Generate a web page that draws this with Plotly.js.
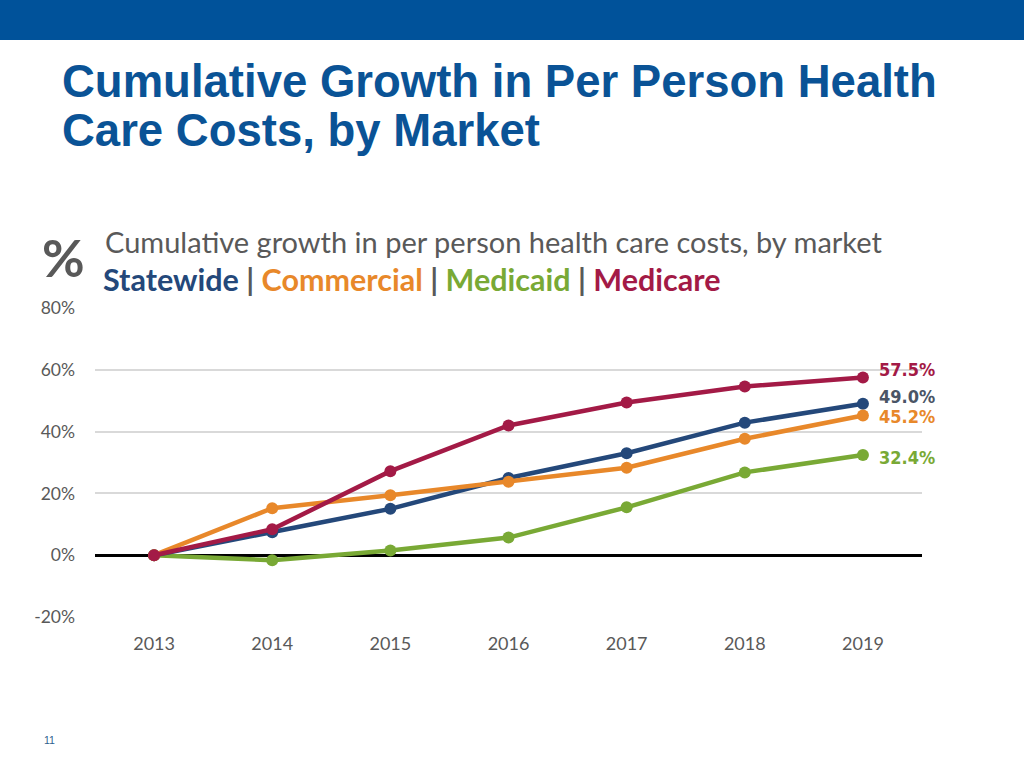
<!DOCTYPE html>
<html>
<head>
<meta charset="utf-8">
<script src="https://cdn.plot.ly/plotly-3.0.1.min.js"></script>
<style>
html,body{margin:0;padding:0;background:#fff;}
#chart{width:1024px;height:768px;}
</style>
</head>
<body>
<div id="chart"></div>
<script>
// ---- data ----
const years = [2013, 2014, 2015, 2016, 2017, 2018, 2019];
const yearLabels = ["2013", "2014", "2015", "2016", "2017", "2018", "2019"];
const statewide  = [0, 7.4, 15.0, 25.0, 33.0, 42.9, 49.0];
const commercial = [0, 15.2, 19.4, 23.8, 28.3, 37.7, 45.2];
const medicaid   = [0, -1.6, 1.5, 5.7, 15.5, 26.8, 32.4];
const medicare   = [0, 8.4, 27.2, 42.0, 49.4, 54.6, 57.5];
const seriesNames = ["Statewide", "Commercial", "Medicaid", "Medicare"];
const yTickVals = [-20, 0, 20, 40, 60, 80];
const yTickText = ["-20%", "0%", "20%", "40%", "60%", "80%"];
const titleLines = ["Cumulative Growth in Per Person Health", "Care Costs, by Market"];
const chartSubtitle = "Cumulative growth in per person health care costs, by market";

const colors = {
  Statewide: "#24487a",
  Commercial: "#e8882a",
  Medicaid: "#79a935",
  Medicare: "#a31a46"
};
const labelColors = {
  Statewide: "#4a5566",
  Commercial: "#e8882a",
  Medicaid: "#79a935",
  Medicare: "#a31a46"
};
const allSeries = [statewide, commercial, medicaid, medicare];

// plot area geometry (pixels)
const L = 95, R = 922, T = 308, B = 617;
const W = R - L, H = B - T;
const px = x => (x - L) / W;
const py = y => (B - y) / H;

const traces = seriesNames.map((n, i) => ({
  type: "scatter",
  mode: "lines+markers",
  name: n,
  x: years,
  y: allSeries[i],
  line: {color: colors[n], width: 4.5},
  marker: {color: colors[n], size: 12},
  hoverinfo: "skip"
}));
const order = [2, 0, 1, 3];
const data = order.map(i => traces[i]);

const endYShift = {Statewide: 7, Commercial: -1, Medicaid: -2, Medicare: 8};
const endAnnotations = seriesNames.map((n, i) => {
  const arr = allSeries[i];
  const v = arr[arr.length - 1];
  return {
    x: years[years.length - 1], y: v, xref: "x", yref: "y",
    text: "<b>" + v.toFixed(1) + "%</b>", showarrow: false,
    xanchor: "left", xshift: 14, yshift: endYShift[n],
    font: {family: "'DejaVu Sans Condensed', 'DejaVu Sans', sans-serif", size: 18, color: labelColors[n]}
  };
});

const sep = '<span style="color:#595959"> | </span>';
const legendText = seriesNames.map(n =>
  '<span style="color:' + colors[n] + '">' + n + '</span>').join(sep);

const titleFont = {family: "'Liberation Sans', Arial, sans-serif", size: 45.5, color: "#0a5396"};

const annotations = endAnnotations.concat([
  {
    xref: "paper", yref: "paper", x: px(60), y: py(81),
    xanchor: "left", yanchor: "middle", showarrow: false,
    text: "<b>" + titleLines[0] + "</b>", font: titleFont
  },
  {
    xref: "paper", yref: "paper", x: px(60), y: py(130),
    xanchor: "left", yanchor: "middle", showarrow: false,
    text: "<b>" + titleLines[1] + "</b>", font: titleFont
  },
  {
    xref: "paper", yref: "paper", x: px(103), y: py(241),
    xanchor: "left", yanchor: "middle", showarrow: false,
    text: chartSubtitle,
    font: {family: "Lato, sans-serif", size: 29, color: "#595959"}
  },
  {
    xref: "paper", yref: "paper", x: px(101), y: py(279),
    xanchor: "left", yanchor: "middle", showarrow: false,
    text: "<b>" + legendText + "</b>",
    font: {family: "Lato, sans-serif", size: 30.5, color: "#595959"}
  },
  {
    xref: "paper", yref: "paper", x: px(40), y: py(257),
    xanchor: "left", yanchor: "middle", showarrow: false,
    text: "<b>%</b>",
    font: {family: "Lato, sans-serif", size: 52, color: "#595959"}
  },
  {
    xref: "paper", yref: "paper", x: px(42), y: py(740),
    xanchor: "left", yanchor: "middle", showarrow: false,
    text: "11",
    font: {family: "'Liberation Sans', Arial, sans-serif", size: 10.5, color: "#2e5f8f"}
  }
]);

const layout = {
  width: 1024, height: 768,
  margin: {l: L, r: 1024 - R, t: T, b: 768 - B, pad: 0},
  paper_bgcolor: "#ffffff", plot_bgcolor: "#ffffff",
  showlegend: false,
  xaxis: {
    range: [2012.5, 2019.5],
    tickvals: years, ticktext: yearLabels,
    showgrid: false, zeroline: false, showline: false, ticks: "",
    tickfont: {family: "Lato, sans-serif", size: 18, color: "#595959"},
    ticklabelstandoff: 14,
    fixedrange: true
  },
  yaxis: {
    range: [-20, 80],
    tickvals: yTickVals, ticktext: yTickText,
    showgrid: true, gridcolor: "#d9d9d9", gridwidth: 2,
    zeroline: true, zerolinecolor: "#000000", zerolinewidth: 3,
    showline: false, ticks: "",
    tickfont: {family: "Lato, sans-serif", size: 17.5, color: "#595959"},
    ticklabelstandoff: 19,
    fixedrange: true
  },
  shapes: [
    {
      type: "rect", xref: "paper", yref: "paper",
      x0: px(0), x1: px(1024), y0: py(40), y1: py(0),
      fillcolor: "#00529a", line: {width: 0}, layer: "below"
    }
  ],
  annotations: annotations
};

Plotly.newPlot("chart", data, layout, {displayModeBar: false, staticPlot: true});
</script>
</body>
</html>
